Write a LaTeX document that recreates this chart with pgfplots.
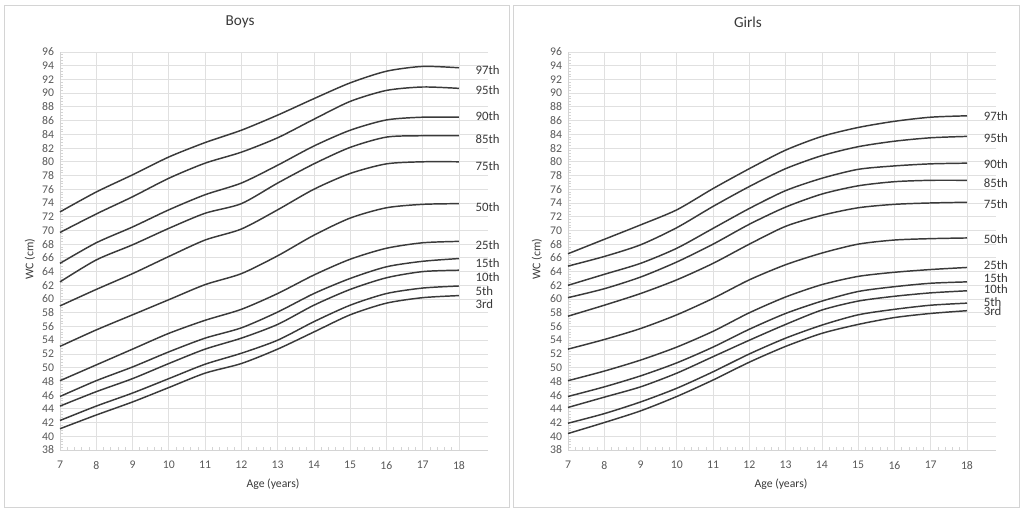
\documentclass[border=0pt]{standalone}
\usepackage{fontspec}
\setmainfont{Carlito}
\usepackage{pgfplots}
\usepackage{pgfplotstable}
\pgfplotsset{compat=1.18}

\definecolor{linec}{HTML}{3A3A3A}
\definecolor{tickc}{HTML}{595959}
\definecolor{gridc}{HTML}{E0E0E0}
\definecolor{framec}{HTML}{D4D4D4}

% waist circumference percentiles
\pgfplotstableread{
age p3   p5   p10  p15  p25  p50  p75  p85  p90  p95  p97
7   41.1 42.3 44.4 45.8 48.1 53.1 59.0 62.5 65.2 69.7 72.7
8   43.1 44.4 46.5 48.1 50.4 55.5 61.4 65.7 68.2 72.4 75.6
9   45.0 46.3 48.4 50.1 52.7 57.7 63.7 67.9 70.5 74.9 78.1
10  47.1 48.4 50.6 52.3 55.0 59.9 66.2 70.3 73.0 77.6 80.7
11  49.2 50.5 52.7 54.3 56.9 62.1 68.6 72.5 75.2 79.8 82.8
12  50.6 52.1 54.3 55.8 58.5 63.7 70.2 73.9 76.9 81.4 84.6
13  52.7 54.0 56.3 58.1 60.8 66.3 73.0 76.9 79.5 83.5 86.8
14  55.2 56.7 59.1 60.8 63.5 69.3 76.0 79.7 82.3 86.2 89.2
15  57.7 59.1 61.4 63.0 65.8 71.8 78.3 82.1 84.6 88.8 91.5
16  59.4 60.8 63.1 64.7 67.4 73.3 79.7 83.6 86.1 90.4 93.2
17  60.2 61.6 64.0 65.5 68.2 73.8 80.0 83.8 86.5 90.9 93.9
18  60.5 61.9 64.2 65.9 68.4 73.9 80.0 83.8 86.5 90.7 93.7
}\boys

\pgfplotstableread{
age p3   p5   p10  p15  p25  p50  p75  p85  p90  p95  p97
7   40.4 41.9 44.2 45.8 48.1 52.7 57.5 60.2 62.0 64.8 66.6
8   42.0 43.3 45.7 47.2 49.5 54.1 59.1 61.5 63.6 66.2 68.7
9   43.7 45.0 47.2 48.8 51.1 55.7 60.8 63.2 65.2 67.9 70.8
10  45.8 47.0 49.2 50.7 53.0 57.7 62.8 65.4 67.4 70.4 73.0
11  48.2 49.4 51.6 53.0 55.3 60.1 65.2 68.0 70.3 73.5 76.1
12  50.8 52.0 54.0 55.6 58.0 62.8 68.0 70.9 73.2 76.4 79.0
13  53.1 54.3 56.3 57.9 60.3 65.0 70.6 73.4 75.8 79.0 81.7
14  55.0 56.2 58.4 59.7 62.1 66.7 72.2 75.3 77.6 80.9 83.7
15  56.3 57.7 59.7 61.1 63.3 68.0 73.3 76.5 78.9 82.2 85.0
16  57.3 58.5 60.4 61.8 63.9 68.6 73.8 77.1 79.4 83.0 85.9
17  57.9 59.1 60.9 62.3 64.3 68.8 74.0 77.3 79.7 83.5 86.5
18  58.3 59.4 61.2 62.5 64.6 68.9 74.1 77.3 79.8 83.7 86.7
}\girls

\tikzset{lbl/.style={anchor=west, inner sep=0pt, font=\fontsize{9.6}{10}\selectfont, text=linec}}

\pgfplotsset{
  wc/.style={
    scale only axis, width=321pt, height=298.5pt,
    anchor=south west,
    xmin=7, xmax=18.8, ymin=38, ymax=96,
    xtick={7,...,18}, ytick={38,40,...,96},
    minor x tick num=4, minor y tick num=4,
    axis x line*=bottom, axis y line*=left,
    axis line style={-, draw=framec, line width=0.6pt},
    grid=major, major grid style={draw=gridc, line width=0.6pt},
    major tick length=0pt, minor tick length=2pt,
    minor tick style={draw=framec, line width=0.5pt},
    tick align=inside,
    ticklabel style={font=\fontsize{8.8}{10}\selectfont, text=tickc},
    /pgf/number format/assume math mode=true,
    xticklabel style={yshift=-5pt}, yticklabel style={xshift=-1pt},
    cycle list={linec,solid,line width=1.1pt,smooth,tension=0.45\\},
    no markers,
    clip=false,
  },
}

\begin{document}
\begin{tikzpicture}
\useasboundingbox (0,0) rectangle (768pt,382.5pt);
\fill[white] (0,0) rectangle (768pt,382.5pt);
\draw[framec, line width=0.6pt] (3pt,2.25pt) rectangle (381.75pt,378.75pt);
\draw[framec, line width=0.6pt] (384.75pt,2.25pt) rectangle (764.25pt,378.75pt);

\node[text=linec, font=\fontsize{11.4}{13}\selectfont] at (180pt,366pt) {Boys};
\node[text=linec, font=\fontsize{11.4}{13}\selectfont] at (561pt,366pt) {Girls};
\node[text=linec, rotate=90, font=\fontsize{8.8}{10}\selectfont] at (22.5pt,188.25pt) {WC (cm)};
\node[text=linec, rotate=90, font=\fontsize{8.8}{10}\selectfont] at (402.75pt,188.25pt) {WC (cm)};
\node[text=linec, font=\fontsize{8.8}{10}\selectfont] at (204.75pt,19.5pt) {Age (years)};
\node[text=linec, font=\fontsize{8.8}{10}\selectfont] at (585.75pt,19.5pt) {Age (years)};

\begin{axis}[wc, at={(45pt,45pt)}]
  \addplot table[x=age, y=p97] {\boys};
  \addplot table[x=age, y=p95] {\boys};
  \addplot table[x=age, y=p90] {\boys};
  \addplot table[x=age, y=p85] {\boys};
  \addplot table[x=age, y=p75] {\boys};
  \addplot table[x=age, y=p50] {\boys};
  \addplot table[x=age, y=p25] {\boys};
  \addplot table[x=age, y=p15] {\boys};
  \addplot table[x=age, y=p10] {\boys};
  \addplot table[x=age, y=p5] {\boys};
  \addplot table[x=age, y=p3] {\boys};
  \node[lbl] at (axis cs:18.45,93.4) {97th};
  \node[lbl] at (axis cs:18.45,90.5) {95th};
  \node[lbl] at (axis cs:18.45,86.6) {90th};
  \node[lbl] at (axis cs:18.45,83.3) {85th};
  \node[lbl] at (axis cs:18.45,79.4) {75th};
  \node[lbl] at (axis cs:18.45,73.4) {50th};
  \node[lbl] at (axis cs:18.45,67.9) {25th};
  \node[lbl] at (axis cs:18.45,65.2) {15th};
  \node[lbl] at (axis cs:18.45,63.2) {10th};
  \node[lbl] at (axis cs:18.45,61.2) {5th};
  \node[lbl] at (axis cs:18.45,59.3) {3rd};
\end{axis}

\begin{axis}[wc, at={(426pt,45pt)}]
  \addplot table[x=age, y=p97] {\girls};
  \addplot table[x=age, y=p95] {\girls};
  \addplot table[x=age, y=p90] {\girls};
  \addplot table[x=age, y=p85] {\girls};
  \addplot table[x=age, y=p75] {\girls};
  \addplot table[x=age, y=p50] {\girls};
  \addplot table[x=age, y=p25] {\girls};
  \addplot table[x=age, y=p15] {\girls};
  \addplot table[x=age, y=p10] {\girls};
  \addplot table[x=age, y=p5] {\girls};
  \addplot table[x=age, y=p3] {\girls};
  \node[lbl] at (axis cs:18.46,86.7) {97th};
  \node[lbl] at (axis cs:18.46,83.4) {95th};
  \node[lbl] at (axis cs:18.46,79.7) {90th};
  \node[lbl] at (axis cs:18.46,76.9) {85th};
  \node[lbl] at (axis cs:18.46,73.9) {75th};
  \node[lbl] at (axis cs:18.46,68.7) {50th};
  \node[lbl] at (axis cs:18.46,64.9) {25th};
  \node[lbl] at (axis cs:18.46,63.0) {15th};
  \node[lbl] at (axis cs:18.46,61.5) {10th};
  \node[lbl] at (axis cs:18.46,59.6) {5th};
  \node[lbl] at (axis cs:18.46,58.3) {3rd};
\end{axis}
\end{tikzpicture}
\end{document}
